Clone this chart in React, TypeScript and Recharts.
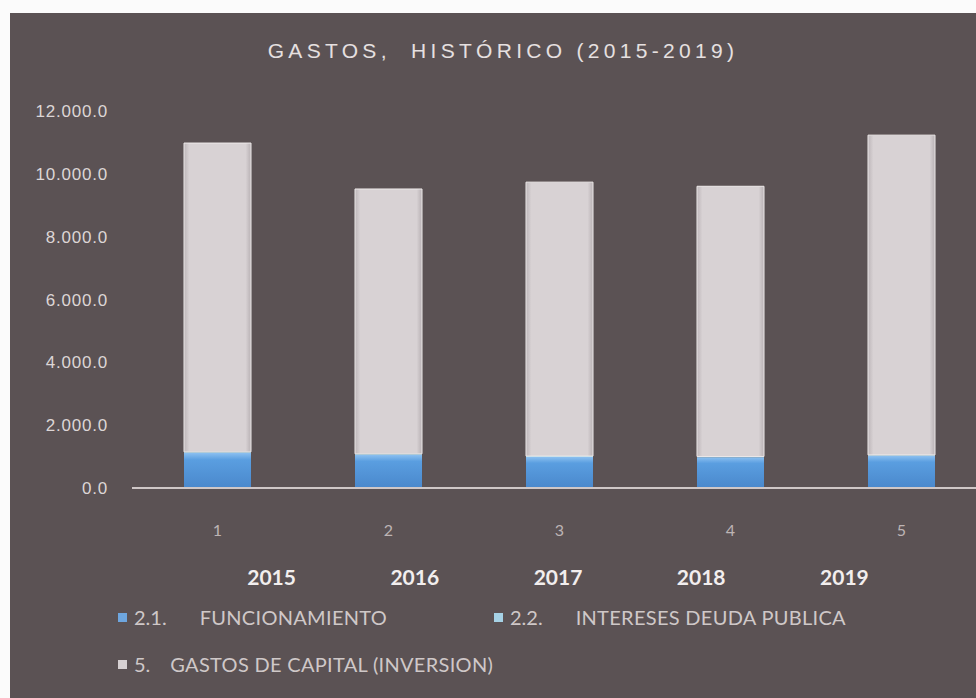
import { BarChart, Bar, XAxis, YAxis } from 'recharts'

// values (millions)
const periods = ['1', '2', '3', '4', '5']
const years = ['2015', '2016', '2017', '2018', '2019']
const funcionamiento = [1120, 1060, 990, 980, 1030]
const intereses = [30, 28, 26, 24, 22]
const capital = [9830, 8430, 8720, 8600, 10180]
const yTicks = [0, 2000, 4000, 6000, 8000, 10000, 12000]

const data = periods.map((p, i) => ({
  period: p,
  year: years[i],
  func: funcionamiento[i],
  int: intereses[i],
  cap: capital[i],
}))

const BG = '#5b5254'

// 12000 -> "12.000.0"
function fmt(v: number) {
  const s = Math.round(v).toString().replace(/\B(?=(\d{3})+(?!\d))/g, '.')
  return s + '.0'
}

const legendItems = [
  { num: '2.1.', label: 'FUNCIONAMIENTO', color: '#6ea6df', x: 118, y: 605, gap: 33 },
  { num: '2.2.', label: 'INTERESES DEUDA PUBLICA', color: '#a6d2e6', x: 494, y: 605, gap: 33 },
  { num: '5.', label: 'GASTOS DE CAPITAL (INVERSION)', color: '#d6d0d2', x: 118, y: 652, gap: 20 },
]

export default function App() {
  return (
    <div style={{ position: 'absolute', left: 0, top: 0, width: 976, height: 698, background: '#fbfbfb', overflow: 'hidden' }}>
      <div style={{ position: 'absolute', left: 10, top: 13, width: 966, height: 685, background: BG }} />
      <div
        style={{
          position: 'absolute', left: 0, top: 39, width: 1006, textAlign: 'center',
          fontFamily: 'Liberation Sans, Arial, sans-serif', fontSize: 21, letterSpacing: 4.3,
          color: '#e6e0e0', whiteSpace: 'pre',
        }}
      >
        {'GASTOS,  HISTÓRICO (2015-2019)'}
      </div>
      <div style={{ position: 'absolute', left: 0, top: 0 }}>
        <BarChart width={976} height={698} data={data} margin={{ top: 111, right: -11, left: 0, bottom: 150 }} barSize={67}>
          <defs>
            <linearGradient id="capGrad" x1="0" y1="0" x2="1" y2="0">
              <stop offset="0%" stopColor="#bdb6b9" />
              <stop offset="8%" stopColor="#d8d2d4" />
              <stop offset="92%" stopColor="#d8d2d4" />
              <stop offset="100%" stopColor="#b8b1b4" />
            </linearGradient>
            <linearGradient id="funcGrad" x1="0" y1="0" x2="0" y2="1">
              <stop offset="0%" stopColor="#8cc0f0" />
              <stop offset="20%" stopColor="#5a9ee0" />
              <stop offset="100%" stopColor="#4a88cc" />
            </linearGradient>
          </defs>
          <XAxis
            dataKey="period"
            axisLine={{ stroke: '#cfc7c7', strokeWidth: 2 }}
            tickLine={false}
            height={30}
            tick={(p: any) => (
              <text x={p.x} y={p.y + 40} textAnchor="middle" fill="#bdb4b4" fontSize={16} fontFamily="Lato, sans-serif">
                {p.payload.value}
              </text>
            )}
          />
          <XAxis
            xAxisId="yr"
            dataKey="year"
            axisLine={false}
            tickLine={false}
            height={30}
            padding={{ left: 68, right: 71 }}
            tick={(p: any) => (
              <text x={p.x} y={p.y + 59} textAnchor="middle" fill="#f2eeee" fontSize={21} fontWeight="bold" fontFamily="Lato, sans-serif">
                {p.payload.value}
              </text>
            )}
          />
          <YAxis
            width={132}
            domain={[0, 12000]}
            ticks={yTicks}
            axisLine={false}
            tickLine={false}
            tick={(p: any) => (
              <text x={108} y={p.y + 6} textAnchor="end" fill="#ddd6d6" fontSize={17} letterSpacing={0.8} fontFamily="Liberation Sans, Arial, sans-serif">
                {fmt(p.payload.value)}
              </text>
            )}
          />
          <Bar dataKey="func" stackId="a" fill="url(#funcGrad)" isAnimationActive={false} />
          <Bar dataKey="int" stackId="a" fill="#9fd3e8" isAnimationActive={false} />
          <Bar dataKey="cap" stackId="a" fill="url(#capGrad)" stroke="#eeeaea" strokeWidth={1} isAnimationActive={false} />
        </BarChart>
      </div>
      {legendItems.map((it) => (
        <div
          key={it.label}
          style={{
            position: 'absolute', left: it.x, top: it.y, display: 'flex', alignItems: 'center',
            fontFamily: 'Lato, sans-serif', fontSize: 20, color: '#cfc8c8', whiteSpace: 'pre',
          }}
        >
          <span style={{ display: 'inline-block', width: 9, height: 9, background: it.color, marginRight: 7 }} />
          <span>{it.num}</span>
          <span style={{ marginLeft: it.gap, letterSpacing: 0.3 }}>{it.label}</span>
        </div>
      ))}
    </div>
  )
}
